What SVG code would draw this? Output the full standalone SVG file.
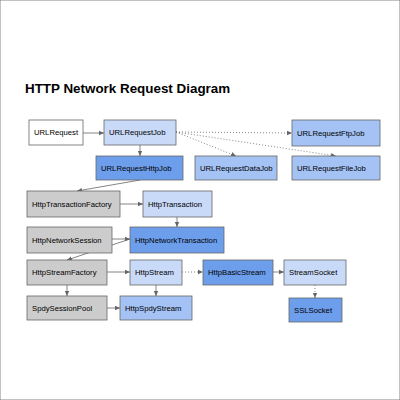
<svg xmlns="http://www.w3.org/2000/svg" width="400" height="400" viewBox="0 0 400 400">
<style>
text{font-family:"Liberation Sans",Arial,sans-serif;font-size:7.7px;fill:#000}
.title{font-size:13.4px;font-weight:bold}
rect{stroke:#666666;stroke-width:0.8}
.w{fill:#ffffff}
.l{fill:#c9daf8}
.m{fill:#a4c2f4}
.d{fill:#6d9eeb}
.g{fill:#cccccc}
.c line{stroke:#666666;stroke-width:0.8;marker-end:url(#a)}
.c .dot{stroke-dasharray:1 2}
</style>
<defs>
<marker id="a" markerWidth="6" markerHeight="6" refX="5" refY="3" orient="auto" markerUnits="userSpaceOnUse">
<path d="M0,0.8 L5,3 L0,5.2 Z" fill="#666666"/>
</marker>
</defs>
<rect x="0" y="0" width="400" height="400" fill="#fff" stroke="none"/>
<text class="title" x="25" y="93">HTTP Network Request Diagram</text>
<g class="c" id="connectors">
<line x1="83" y1="133" x2="104" y2="133"/>
<line x1="140" y1="145" x2="140" y2="156"/>
<line class="dot" x1="176" y1="132" x2="292" y2="133"/>
<line class="dot" x1="176" y1="132" x2="236" y2="156"/>
<line class="dot" x1="176" y1="132" x2="336" y2="156"/>
<line x1="140" y1="180" x2="77" y2="191"/>
<line x1="120" y1="204" x2="143" y2="204"/>
<line x1="177" y1="217" x2="177" y2="227"/>
<line x1="112" y1="239" x2="130" y2="239"/>
<line x1="130" y1="239" x2="67" y2="260"/>
<line x1="107" y1="272" x2="130" y2="272"/>
<line class="dot" x1="182" y1="272" x2="203" y2="272"/>
<line x1="273" y1="272" x2="284" y2="272"/>
<line class="dot" x1="315" y1="285" x2="315" y2="298"/>
<line x1="67" y1="285" x2="67" y2="296"/>
<line x1="107" y1="308" x2="120" y2="308"/>
<line x1="156" y1="285" x2="156" y2="296"/>
</g>
<g id="URLRequest"><rect class="w" x="29" y="120" width="54" height="25"/><text x="34" y="135">URLRequest</text></g>
<g id="URLRequestJob"><rect class="l" x="104" y="120" width="72" height="25"/><text x="109" y="135">URLRequestJob</text></g>
<g id="URLRequestFtpJob"><rect class="m" x="292" y="120" width="88" height="26"/><text x="297" y="136">URLRequestFtpJob</text></g>
<g id="URLRequestHttpJob"><rect class="d" x="96" y="156" width="87" height="24"/><text x="101" y="171">URLRequestHttpJob</text></g>
<g id="URLRequestDataJob"><rect class="m" x="195" y="156" width="82" height="24"/><text x="200" y="171">URLRequestDataJob</text></g>
<g id="URLRequestFileJob"><rect class="m" x="292" y="156" width="88" height="24"/><text x="297" y="171">URLRequestFileJob</text></g>
<g id="HttpTransactionFactory"><rect class="g" x="27" y="191" width="93" height="26"/><text x="32" y="207">HttpTransactionFactory</text></g>
<g id="HttpTransaction"><rect class="l" x="143" y="191" width="69" height="26"/><text x="148" y="207">HttpTransaction</text></g>
<g id="HttpNetworkSession"><rect class="g" x="27" y="227" width="85" height="26"/><text x="32" y="243">HttpNetworkSession</text></g>
<g id="HttpNetworkTransaction"><rect class="d" x="130" y="227" width="94" height="26"/><text x="135" y="243">HttpNetworkTransaction</text></g>
<g id="HttpStreamFactory"><rect class="g" x="27" y="260" width="80" height="25"/><text x="32" y="275">HttpStreamFactory</text></g>
<g id="HttpStream"><rect class="l" x="130" y="260" width="52" height="25"/><text x="135" y="275">HttpStream</text></g>
<g id="HttpBasicStream"><rect class="d" x="203" y="260" width="70" height="25"/><text x="208" y="275">HttpBasicStream</text></g>
<g id="StreamSocket"><rect class="l" x="284" y="260" width="62" height="25"/><text x="289" y="275">StreamSocket</text></g>
<g id="SpdySessionPool"><rect class="g" x="27" y="296" width="80" height="24"/><text x="32" y="311">SpdySessionPool</text></g>
<g id="HttpSpdyStream"><rect class="m" x="120" y="296" width="72" height="24"/><text x="125" y="311">HttpSpdyStream</text></g>
<g id="SSLSocket"><rect class="d" x="289" y="298" width="53" height="24"/><text x="294" y="313">SSLSocket</text></g>
</svg>
